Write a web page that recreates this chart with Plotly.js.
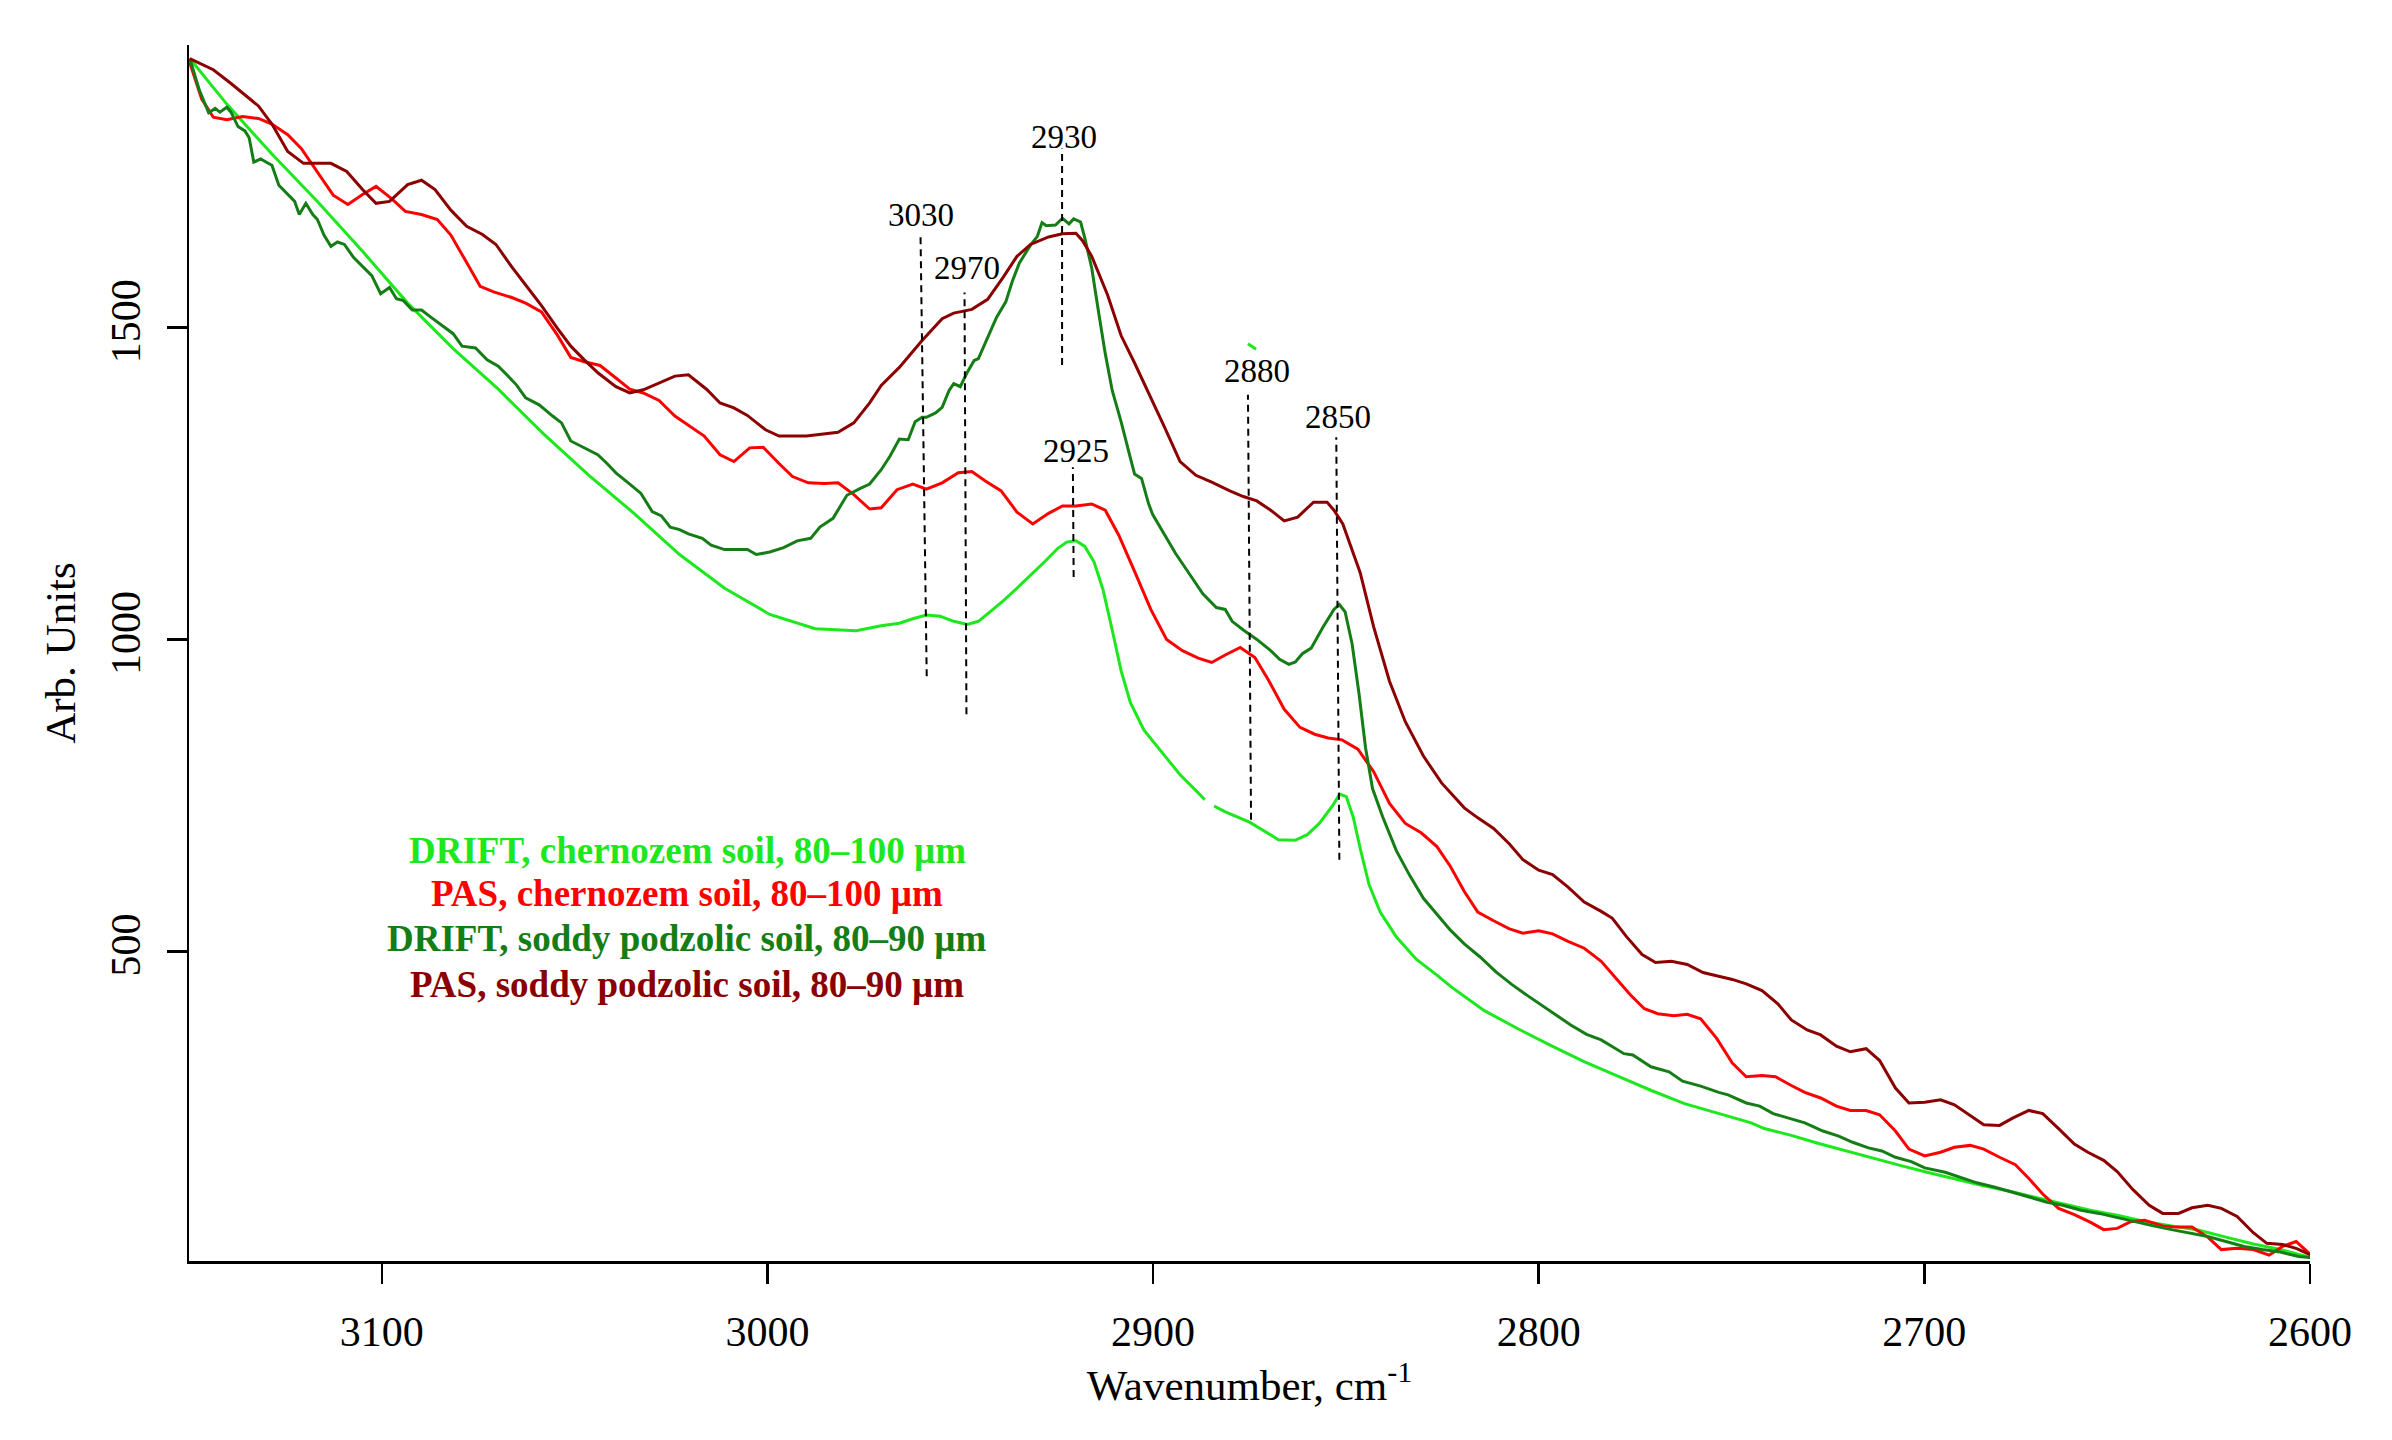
<!DOCTYPE html>
<html>
<head>
<meta charset="utf-8">
<script src="https://cdn.plot.ly/plotly-3.0.1.min.js"></script>
<style>
html, body { margin: 0; padding: 0; background: #ffffff; }
#chart { width: 2392px; height: 1440px; }
</style>
</head>
<body>
<div id="chart"></div>
<script>
// ---------------- data ----------------
const seriesNames = [
  "DRIFT, chernozem soil, 80\u2013100 \u00b5m",
  "PAS, chernozem soil, 80\u2013100 \u00b5m",
  "DRIFT, soddy podzolic soil, 80\u201390 \u00b5m",
  "PAS, soddy podzolic soil, 80\u201390 \u00b5m"
];

// DRIFT, chernozem soil (light green); null marks the gap in the trace
const driftChernozemX = [3149.8,3140.2,3128.5,3116.7,3105.0,3093.3,3081.5,3069.8,3058.0,3046.3,3034.6,3022.8,3011.1,2999.4,2987.6,2977.0,
  2970.5,2965.8,2962.3,2958.8,2955.2,2951.7,2948.2,2945.3,2942.3,2938.8,2935.3,2931.8,2928.2,2924.7,2922.4,2920.0,2917.7,2915.3,2913.0,2910.6,2908.3,2905.9,2902.4,2897.7,2893.0,2888.3,2886.6,
  null,
  2884.2,2881.4,2875.0,2867.5,2863.2,2860.0,2856.9,2853.4,2851.6,2849.9,2848.1,2846.3,2844.0,2841.1,2836.9,2831.7,2826.4,
  2822.7,2814.1,2805.4,2796.8,2788.1,2779.5,2770.8,2762.2,2753.6,2744.9,
  2741.5,2734.5,2727.4,2720.4,2713.4,2706.3,2699.3,2692.2,2685.2,2678.1,2671.1,2664.1,2657.0,2650.0,2642.9,2635.9,2628.8,2621.8,2614.7,2607.7,2599.7];
const driftChernozemY = [1931,1858,1778,1702,1622,1539,1466,1401,1329,1263,1202,1136,1082,1040,1017,1014,
  1022,1026,1033,1039,1037,1029,1024,1029,1044,1062,1082,1102,1124,1146,1156,1158,1149,1124,1080,1015,950,899,855,819,783,754,743,
  null,
  733,724,707,679,678,687,705,734,752,748,715,665,607,563,523,487,462,
  443,405,376,349,323,300,277,256,240,225,
  216,205,192,180,169,157,146,135,125,116,106,96,85,77,67,60,53,42,31,22,9];
// small stray piece of the light-green trace above the 2880 label
const driftChernozemStrayX = [2875.4, 2873.3];
const driftChernozemStrayY = [1474, 1465];

// PAS, chernozem soil (red)
const pasChernozemX = [3150.0,3146.7,3143.7,3140.2,3136.1,3132.0,3128.5,3124.4,3120.9,3116.7,3112.6,3108.8,3105.0,3101.5,3097.4,3093.9,3089.7,3085.6,3082.1,3078.0,3074.5,3071.0,3066.3,3062.7,3058.6,3054.5,3051.0,3047.5,3043.4,3039.3,3035.7,3032.2,3028.1,3024.0,3020.5,3016.4,3012.3,3008.7,3004.6,3001.1,2997.0,2993.5,2989.4,2985.2,2981.7,2977.6,2973.5,
  2970.5,2966.4,2962.3,2958.8,2954.7,2950.5,2947.0,2943.5,2939.4,2935.3,2931.2,2927.1,2923.5,2920.0,2915.9,2912.4,2908.9,2904.8,2900.6,2896.5,2892.4,2888.3,2884.8,2881.3,2877.4,2873.6,2870.1,2866.0,2861.9,
  2858.1,2854.6,2851.0,2846.9,2842.8,2838.7,2834.6,2830.5,2826.4,2822.9,2819.3,2815.8,2811.7,2807.6,2804.1,2800.0,2796.4,2792.4,2788.2,
  2783.8,2779.7,2776.2,2772.6,2769.1,2765.0,2761.5,2758.0,2753.9,2749.8,2746.2,2742.1,2738.6,2734.5,2731.0,2726.9,2722.8,2719.2,2715.1,2711.6,2707.5,2704.0,2699.9,2695.8,2692.2,2688.1,2684.6,2680.5,2676.4,2672.9,2669.3,2665.2,2661.1,2657.0,2653.5,2650.0,2646.4,2642.9,2638.2,2634.7,2630.6,2626.5,2623.0,2618.9,2614.7,2610.6,2607.1,2603.6,2599.7];
const pasChernozemY = [1928,1866,1837,1833,1838,1835,1826,1809,1787,1750,1712,1697,1713,1726,1706,1686,1681,1673,1648,1604,1566,1557,1548,1539,1525,1488,1452,1445,1439,1419,1401,1395,1383,1358,1343,1326,1296,1285,1307,1308,1282,1261,1251,1250,1251,1232,1209,
  1211,1240,1249,1241,1251,1267,1269,1254,1238,1204,1185,1202,1214,1214,1217,1207,1167,1109,1048,1000,982,970,963,975,987,971,935,888,859,
  848,842,839,824,788,737,705,690,668,636,596,563,549,536,529,533,528,516,505,
  484,455,430,408,400,397,399,392,361,321,299,301,299,285,274,265,252,245,245,238,212,183,172,178,186,189,183,170,158,136,111,88,78,66,54,56,67,69,60,58,58,42,22,24,22,13,27,35,13];

// DRIFT, soddy podzolic soil (dark green)
const driftSoddyX = [3149.8,3147.3,3144.9,3143.2,3142.0,3140.2,3139.1,3137.3,3135.5,3134.4,3133.2,3131.4,3129.7,3128.5,3126.7,3124.4,3122.6,3121.4,3119.7,3117.9,3116.7,3115.0,3113.2,3111.5,3109.7,3107.3,3105.0,3102.6,3100.3,3098.0,3096.2,3094.4,3092.1,3089.7,3087.4,3084.5,3081.5,3079.2,3075.7,3072.7,3069.8,3067.4,3065.1,3062.7,3059.2,3055.7,3053.4,3051.0,3047.5,3044.0,3041.6,3039.3,3035.7,3032.8,3029.9,3027.5,3025.2,3022.8,3020.5,3016.9,3014.6,3011.1,3007.6,3005.2,3002.9,2999.4,2995.8,2992.3,2988.8,2986.4,2983.0,2979.4,2975.9,2973.5,
  2970.5,2968.2,2965.8,2963.5,2961.7,2959.9,2958.8,2956.4,2954.7,2952.9,2951.7,2950.0,2948.2,2946.4,2945.3,2943.5,2940.6,2938.2,2936.5,2934.7,2931.8,2930.0,2928.8,2927.7,2925.3,2923.5,2921.8,2920.6,2918.8,2917.7,2915.9,2914.1,2912.4,2910.6,2908.3,2905.9,2904.8,2903.0,2901.2,2900.1,2897.7,2894.2,2890.7,2887.1,2883.6,2881.3,2879.5,2876.6,2873.1,2869.5,2867.2,2864.8,2863.1,2861.3,2859.0,2856.0,2853.1,2851.7,2850.2,2848.4,2846.6,2844.9,2843.1,
  2840.5,2836.9,2833.4,2829.9,2826.4,2822.9,2819.3,2815.2,2811.1,2807.0,2802.9,2799.4,2795.9,2791.7,2787.6,
  2783.8,2777.9,2775.6,2770.9,2766.2,2762.7,2758.0,2753.3,2750.9,2746.2,2742.7,2739.2,2734.5,2731.0,2726.3,2722.2,2718.6,2714.5,2711.0,2707.5,2703.4,2699.9,2694.6,2689.9,2686.4,2681.7,2677.0,2672.3,2668.2,2664.1,2659.4,2654.7,2650.0,2645.3,2640.6,2635.9,2631.2,2626.5,2621.8,2617.1,2612.4,2607.7,2603.0,2599.7];
const driftSoddyY = [1931,1880,1844,1851,1845,1853,1845,1822,1815,1804,1765,1770,1764,1760,1728,1713,1702,1681,1699,1681,1673,1648,1630,1637,1633,1612,1597,1583,1554,1564,1546,1543,1528,1528,1517,1503,1490,1470,1467,1448,1438,1423,1408,1387,1376,1358,1347,1318,1307,1296,1282,1267,1249,1234,1205,1198,1180,1176,1169,1162,1151,1144,1144,1144,1136,1140,1147,1158,1162,1180,1194,1231,1242,1249,
  1272,1294,1321,1320,1349,1356,1356,1363,1372,1399,1410,1405,1428,1447,1450,1476,1516,1541,1574,1603,1632,1646,1668,1663,1664,1675,1666,1674,1669,1643,1595,1523,1458,1399,1349,1291,1265,1258,1218,1200,1175,1138,1106,1073,1051,1048,1029,1015,1000,982,968,960,964,977,986,1019,1048,1056,1044,993,913,826,761,
  716,661,621,585,559,534,512,491,467,447,429,414,400,382,367,
  358,336,334,315,307,292,284,274,270,257,252,240,232,225,212,204,194,185,180,170,163,153,146,136,129,122,114,106,98,93,85,80,73,67,60,54,48,43,35,27,22,18,11,9];

// PAS, soddy podzolic soil (dark red)
const pasSoddyX = [3149.8,3143.7,3139.1,3132.0,3128.5,3124.4,3120.3,3113.2,3109.1,3105.0,3101.5,3098.0,3093.3,3089.7,3086.2,3082.1,3078.0,3073.9,3070.4,3066.3,3062.7,3058.6,3054.5,3051.0,3047.5,3043.9,3039.3,3035.7,3032.2,3027.5,3024.0,3020.5,3015.8,3012.3,3008.7,3005.2,3000.5,2997.0,2989.9,2981.7,2977.6,2973.5,
  2970.5,2965.8,2959.9,2954.7,2951.7,2947.0,2942.9,2938.8,2935.3,2931.8,2927.1,2923.5,2920.0,2918.3,2915.9,2911.8,2908.3,2904.8,2901.2,2897.1,2893.0,2888.9,2884.8,2880.1,2876.6,2873.1,2869.5,2866.0,2862.5,2858.4,2854.9,2853.1,2850.8,
  2846.3,2842.8,2838.7,2834.6,2829.9,2825.2,2819.3,2815.8,2811.7,2807.6,2804.1,2800.0,2796.4,2792.4,2788.2,
  2783.8,2780.9,2777.3,2773.2,2769.7,2765.6,2761.5,2757.4,2753.9,2749.8,2746.2,2742.1,2738.0,2734.5,2730.4,2726.9,2722.8,2719.2,2715.1,2711.6,2707.5,2704.0,2699.9,2695.8,2692.2,2688.1,2684.6,2680.5,2677.0,2672.9,2669.3,2665.2,2661.1,2657.6,2653.5,2650.0,2645.9,2641.7,2638.2,2634.1,2630.6,2626.5,2623.0,2618.9,2614.7,2611.2,2607.1,2603.6,2599.7];
const pasSoddyY = [1931,1913,1891,1855,1826,1782,1763,1763,1750,1721,1699,1702,1729,1736,1721,1688,1662,1649,1633,1597,1568,1535,1499,1470,1448,1427,1405,1395,1400,1412,1422,1424,1401,1379,1371,1359,1336,1326,1326,1332,1347,1379,
  1407,1436,1479,1514,1523,1529,1545,1581,1614,1633,1645,1650,1651,1639,1614,1552,1487,1443,1396,1341,1285,1263,1252,1238,1229,1222,1207,1190,1196,1220,1220,1207,1185,
  1107,1020,933,868,813,770,730,714,697,672,647,630,623,603,579,
  564,553,524,495,482,484,479,466,461,455,448,437,416,390,374,366,348,339,344,325,281,257,258,262,254,236,222,221,233,245,240,216,191,178,165,147,118,93,80,80,89,93,88,75,49,32,30,24,13];

// peak markers (dashed lines) and their labels
const peakLabels = ["3030", "2970", "2930", "2925", "2880", "2850"];
const peakLineXTop = [2960.3, 2948.9, 2923.6, 2920.8, 2875.4, 2852.5];
const peakLineXBottom = [2958.7, 2948.4, 2923.6, 2920.6, 2874.6, 2851.7];
const peakLineYTop = [1645, 1556, 1787, 1276, 1392, 1324];
const peakLineYBottom = [941, 880, 1440, 1100, 711, 647];
const peakLabelX = [2960.2, 2948.2, 2923.1, 2920.0, 2873.0, 2852.1];
const peakLabelY = [1680, 1596, 1805, 1302, 1430, 1357];

// axis ticks
const xTickVals = [3100, 3000, 2900, 2800, 2700, 2600];
const yTickVals = [500, 1000, 1500];

// ---------------- styling ----------------
const colors = ["#1de81d", "#ff0000", "#157d15", "#8b0000"];
const serif = "Liberation Serif, Times New Roman, serif";

const seriesX = [driftChernozemX, pasChernozemX, driftSoddyX, pasSoddyX];
const seriesY = [driftChernozemY, pasChernozemY, driftSoddyY, pasSoddyY];

const traces = seriesX.map((xs, i) => ({
  type: "scatter",
  mode: "lines",
  name: seriesNames[i],
  x: xs,
  y: seriesY[i],
  connectgaps: false,
  line: { color: colors[i], width: 3 },
  showlegend: false,
  hoverinfo: "skip"
}));
traces.unshift({
  type: "scatter",
  mode: "lines",
  name: seriesNames[0] + " (fragment)",
  x: driftChernozemStrayX,
  y: driftChernozemStrayY,
  line: { color: colors[0], width: 3 },
  showlegend: false,
  hoverinfo: "skip"
});

const shapes = peakLabels.map((lab, i) => ({
  type: "line",
  xref: "x", yref: "y",
  x0: peakLineXBottom[i], y0: peakLineYBottom[i],
  x1: peakLineXTop[i], y1: peakLineYTop[i],
  line: { color: "#000000", width: 2, dash: "7px,5px" }
}));

const annotations = peakLabels.map((lab, i) => ({
  xref: "x", yref: "y",
  x: peakLabelX[i], y: peakLabelY[i],
  text: lab,
  showarrow: false,
  xanchor: "center", yanchor: "middle",
  font: { family: serif, size: 33, color: "#000000" }
}));

// text legend (coloured bold lines, no symbols)
const legendX = 3020.8;
const legendY = [661, 592, 520, 447];
seriesNames.forEach((nm, i) => {
  annotations.push({
    xref: "x", yref: "y",
    x: legendX, y: legendY[i],
    text: "<b>" + nm + "</b>",
    showarrow: false,
    xanchor: "center", yanchor: "middle",
    font: { family: serif, size: 37, color: colors[i] }
  });
});

const layout = {
  width: 2392,
  height: 1440,
  paper_bgcolor: "#ffffff",
  plot_bgcolor: "#ffffff",
  margin: { l: 189, r: 82, t: 45, b: 179, pad: 0 },
  showlegend: false,
  font: { family: serif, color: "#000000" },
  xaxis: {
    range: [3150, 2600],
    tickmode: "array",
    tickvals: xTickVals,
    ticktext: xTickVals.map(String),
    ticks: "outside",
    ticklen: 20,
    tickwidth: 2.5,
    tickcolor: "#000000",
    showline: true,
    linecolor: "#000000",
    linewidth: 2.5,
    showgrid: false,
    zeroline: false,
    tickfont: { family: serif, size: 42, color: "#000000" },
    ticklabelstandoff: 12,
    title: { text: "Wavenumber, cm<sup>-1</sup>", font: { family: serif, size: 43, color: "#000000" }, standoff: 14 },
    automargin: false
  },
  yaxis: {
    range: [3.7, 1952.7],
    tickmode: "array",
    tickvals: yTickVals,
    ticktext: yTickVals.map(String),
    ticks: "outside",
    ticklen: 20,
    tickwidth: 2.5,
    tickcolor: "#000000",
    tickangle: -90,
    showline: true,
    linecolor: "#000000",
    linewidth: 2.5,
    showgrid: false,
    zeroline: false,
    tickfont: { family: serif, size: 42, color: "#000000" },
    ticklabelstandoff: 10,
    title: { text: "Arb. Units", font: { family: serif, size: 43, color: "#000000" }, standoff: 14 },
    automargin: false
  },
  shapes: shapes,
  annotations: annotations
};

Plotly.newPlot("chart", traces, layout, { displayModeBar: false, staticPlot: true });
</script>
</body>
</html>
